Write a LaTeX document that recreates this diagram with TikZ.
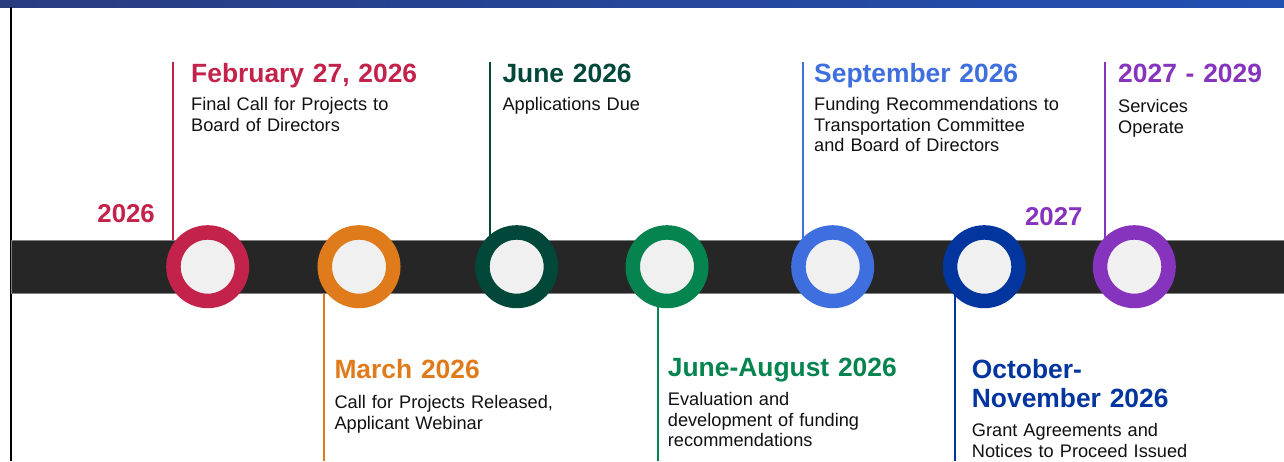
\documentclass[tikz,border=0pt]{standalone}
\usepackage{fontspec}
\setmainfont{Liberation Sans}
\definecolor{cRed}{HTML}{C3224A}
\definecolor{cOrange}{HTML}{E07B1C}
\definecolor{cPine}{HTML}{01473A}
\definecolor{cGreen}{HTML}{06844F}
\definecolor{cBlue}{HTML}{3F6FDE}
\definecolor{cNavy}{HTML}{03359E}
\definecolor{cPurple}{HTML}{8634BE}
\definecolor{barleft}{HTML}{283C80}
\definecolor{barright}{HTML}{2350B3}
\definecolor{ringfill}{HTML}{F0F0F0}
\definecolor{bandgray}{HTML}{262626}
\definecolor{bodytext}{HTML}{111111}
\tikzset{
  ring/.style={circle,draw=#1,line width=14.5pt,fill=ringfill,minimum size=68.5pt,inner sep=0pt},
  stem/.style={draw=#1,line width=2pt},
  title/.style={text=#1,font=\fontsize{26.4}{29}\selectfont\bfseries,anchor=base west,inner sep=0pt,align=left,text width=300pt},
  body/.style={text=bodytext,font=\fontsize{18.2}{20.5}\selectfont,anchor=base west,inner sep=0pt,align=left,text width=300pt},
  yearlbl/.style={text=#1,font=\fontsize{25.8}{28}\selectfont\bfseries,anchor=base east,inner sep=0pt},
}
\begin{document}
\begin{tikzpicture}[x=1pt,y=-1pt]
\clip (0,0) rectangle (1284,461);
\fill[white] (0,0) rectangle (1284,461);
% header bar and left rule
\shade[left color=barleft,right color=barright] (0,0) rectangle (1284,7);
\draw[line width=2pt,black] (10.5,7) -- (10.5,461);
% stem ends
\coordinate (s1) at (173.3,62);
\coordinate (s2) at (324,461);
\coordinate (s3) at (490.3,62);
\coordinate (s4) at (657.7,461);
\coordinate (s5) at (803.3,62);
\coordinate (s6) at (955,461);
\coordinate (s7) at (1105,62);
% milestones
\path (207.7,266.7) coordinate (p1) (359,266.7) coordinate (p2)
      (516.7,266.7) coordinate (p3) (667,266.7) coordinate (p4)
      (832.7,266.7) coordinate (p5) (984.3,266.7) coordinate (p6)
      (1134.3,266.7) coordinate (p7);
\draw[stem=cRed] (s1) -- (s1 |- p1);
\draw[stem=cOrange] (s2) -- (s2 |- p2);
\draw[stem=cPine] (s3) -- (s3 |- p3);
\draw[stem=cGreen] (s4) -- (s4 |- p4);
\draw[stem=cBlue] (s5) -- (s5 |- p5);
\draw[stem=cNavy] (s6) -- (s6 |- p6);
\draw[stem=cPurple] (s7) -- (s7 |- p7);
% band
\draw[fill=bandgray,draw=gray,line width=0.8pt] (11.5,240) rectangle (1290,293);
\node[ring=cRed] (c1) at (p1) {};
\node[ring=cOrange] (c2) at (p2) {};
\node[ring=cPine] (c3) at (p3) {};
\node[ring=cGreen] (c4) at (p4) {};
\node[ring=cBlue] (c5) at (p5) {};
\node[ring=cNavy] (c6) at (p6) {};
\node[ring=cPurple] (c7) at (p7) {};
% years
\node[yearlbl=cRed] (y26) at (155,222.7) {2026};
\node[yearlbl=cPurple] (y27) at (1082.7,225) {2027};
% above the band
\node[title=cRed] (t1) at (191,82.7) {February 27, 2026};
\node[body] (b1) at (191,110.5) {Final Call for Projects to\\Board of Directors};
\node[title=cPine] (t3) at (502.3,82) {June 2026};
\node[body] (b3) at (502.3,110.5) {Applications Due};
\node[title=cBlue] (t5) at (814,82) {September 2026};
\node[body] (b5) at (814,110.5) {Funding Recommendations to\\Transportation Committee\\and Board of Directors};
\node[title=cPurple] (t7) at (1118,82) {2027 - 2029};
\node[body] (b7) at (1118,112.5) {Services\\Operate};
% below the band
\node[title=cOrange] (t2) at (334.3,378.3) {March 2026};
\node[body] (b2) at (334.3,408.5) {Call for Projects Released,\\Applicant Webinar};
\node[title=cGreen] (t4) at (667.7,376.7) {June-August 2026};
\node[body] (b4) at (667.7,405.5) {Evaluation and\\development of funding\\recommendations};
\node[title=cNavy] (t6) at (971.7,378.3) {October-\\November 2026};
\node[body] (b6) at (971.7,436.5) {Grant Agreements and\\Notices to Proceed Issued};
\end{tikzpicture}
\end{document}
